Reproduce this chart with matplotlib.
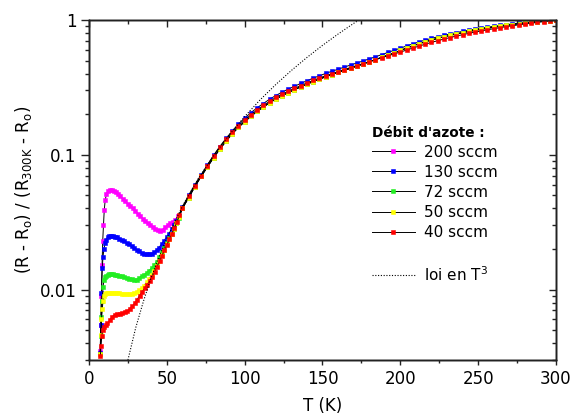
import matplotlib
matplotlib.use('Agg')
import matplotlib.pyplot as plt
import numpy as np
from matplotlib.lines import Line2D
from matplotlib.ticker import MultipleLocator, FuncFormatter, NullFormatter, LogLocator

plt.rcParams['font.family'] = ['DejaVu Sans']

# temperature grid of the high-T part (K), common to every series
T_HI = np.arange(60, 301, 4)

# high-T part, nearly identical for all flows
HI_COMMON = [0.040, 0.048, 0.058, 0.069, 0.081, 0.095, 0.110, 0.126, 0.143, 0.160,
             0.176, 0.193, 0.210, 0.226, 0.243, 0.259, 0.274, 0.289, 0.304, 0.319,
             0.334, 0.349, 0.364, 0.379, 0.393, 0.408, 0.423, 0.438, 0.454, 0.471,
             0.489, 0.508, 0.528, 0.549, 0.571, 0.594, 0.618, 0.642, 0.666, 0.689,
             0.710, 0.730, 0.750, 0.769, 0.787, 0.805, 0.822, 0.838, 0.854, 0.869,
             0.884, 0.898, 0.912, 0.925, 0.938, 0.950, 0.961, 0.972, 0.982, 0.991,
             1.000]
HI_130 = [0.041, 0.050, 0.060, 0.071, 0.084, 0.099, 0.115, 0.132, 0.150, 0.169,
          0.187, 0.205, 0.223, 0.240, 0.258, 0.275, 0.291, 0.307, 0.322, 0.338,
          0.354, 0.370, 0.385, 0.401, 0.416, 0.431, 0.447, 0.463, 0.479, 0.496,
          0.514, 0.533, 0.553, 0.574, 0.596, 0.618, 0.641, 0.664, 0.687, 0.709,
          0.730, 0.750, 0.769, 0.788, 0.806, 0.823, 0.839, 0.855, 0.870, 0.884,
          0.898, 0.911, 0.923, 0.935, 0.946, 0.956, 0.966, 0.975, 0.984, 0.992,
          1.000]
HI_40 = [0.0405, 0.049, 0.059, 0.070, 0.083, 0.098, 0.114, 0.130, 0.147, 0.164,
         0.181, 0.198, 0.215, 0.232, 0.249, 0.266, 0.281, 0.296, 0.311, 0.326,
         0.341, 0.356, 0.371, 0.386, 0.400, 0.414, 0.429, 0.444, 0.459, 0.475,
         0.491, 0.508, 0.525, 0.542, 0.560, 0.578, 0.598, 0.619, 0.640, 0.661,
         0.682, 0.702, 0.722, 0.741, 0.760, 0.778, 0.796, 0.813, 0.830, 0.846,
         0.862, 0.877, 0.892, 0.906, 0.920, 0.933, 0.946, 0.959, 0.972, 0.986,
         1.000]

# low-T part, one per flow
T_LOW_200 = [7.2, 7.6, 8.0, 8.4, 8.8, 9.3, 9.8, 10.4, 11.2, 12.2,
             13.3, 14.5, 15.8, 17.2, 18.7, 20.2, 21.8, 23.4, 25.0, 26.6,
             28.2, 29.8, 31.4, 33.0, 34.6, 36.2, 37.8, 39.4, 41.0, 42.6,
             44.2, 45.8, 47.4, 49.0, 50.6, 52.2, 53.8, 55.4, 57.0]
LOW_200 = [0.0035, 0.0055, 0.009, 0.0153, 0.0228, 0.030, 0.039, 0.046, 0.051, 0.0535,
           0.0545, 0.0545, 0.054, 0.0525, 0.051, 0.049, 0.047, 0.045, 0.043, 0.0415,
           0.040, 0.038, 0.0365, 0.035, 0.0335, 0.0322, 0.031, 0.030, 0.029, 0.0283,
           0.0276, 0.0273, 0.0278, 0.029, 0.030, 0.031, 0.0318, 0.033, 0.035]

T_LOW = [7.2, 7.6, 8.0, 8.5, 9.0, 9.6, 10.3, 11.1, 12.0, 13.0,
         14.1, 15.3, 16.6, 18.0, 19.5, 21.0, 22.6, 24.2, 25.8, 27.4,
         29.0, 30.6, 32.2, 33.8, 35.4, 37.0, 38.6, 40.2, 41.8, 43.4,
         45.0, 46.6, 48.2, 49.8, 51.4, 53.0, 54.6, 56.2, 57.8]
LOW_130 = [0.0034, 0.0055, 0.0095, 0.0145, 0.0175, 0.020, 0.022, 0.0235, 0.0245, 0.0249,
           0.025, 0.0249, 0.0247, 0.0244, 0.0239, 0.0234, 0.0228, 0.0222, 0.0216, 0.021,
           0.0204, 0.0198, 0.0192, 0.0188, 0.0184, 0.0182, 0.0182, 0.0184, 0.0189, 0.0196,
           0.0205, 0.0217, 0.023, 0.0245, 0.026, 0.028, 0.030, 0.0325, 0.035]
LOW_72 = [0.0033, 0.0045, 0.0062, 0.0082, 0.0105, 0.0117, 0.0124, 0.0127, 0.0129, 0.013,
          0.013, 0.013, 0.0129, 0.0128, 0.0127, 0.0125, 0.0123, 0.0122, 0.012, 0.0119,
          0.0117, 0.0118, 0.0122, 0.0126, 0.0129, 0.0133, 0.0138, 0.0144, 0.0151, 0.0161,
          0.0174, 0.0189, 0.0205, 0.0222, 0.024, 0.026, 0.028, 0.031, 0.034]
LOW_50 = [0.0033, 0.0046, 0.0060, 0.0072, 0.0082, 0.0089, 0.0092, 0.0094, 0.0095, 0.0095,
          0.0095, 0.0095, 0.0095, 0.0094, 0.0094, 0.0093, 0.0093, 0.0093, 0.0093, 0.0093,
          0.0094, 0.0096, 0.0099, 0.0102, 0.0107, 0.0113, 0.012, 0.0128, 0.0138, 0.0149,
          0.0164, 0.018, 0.0197, 0.0216, 0.0236, 0.0258, 0.0283, 0.031, 0.0345]

T_LOW_40 = [7.3, 7.7, 8.2, 8.8, 9.6, 10.6, 11.8, 13.3, 14.9, 16.5,
            18.1, 19.7, 21.3, 22.9, 24.5, 26.1, 27.7, 29.3, 30.9, 32.5,
            34.1, 35.7, 37.3, 38.9, 40.5, 42.1, 43.7, 45.3, 46.9, 48.5,
            50.1, 51.7, 53.3, 54.9, 56.5, 58.1]
LOW_40 = [0.0032, 0.0038, 0.0045, 0.0050, 0.0053, 0.0055, 0.0056, 0.0059, 0.0063, 0.0065,
          0.0066, 0.0066, 0.0067, 0.0068, 0.0069, 0.0072, 0.0075, 0.0079, 0.0084, 0.009,
          0.0096, 0.0102, 0.0108, 0.0116, 0.0124, 0.0134, 0.0148, 0.0162, 0.0178, 0.0196,
          0.0215, 0.0237, 0.026, 0.0288, 0.0318, 0.0355]

# T^3 law
T_LOI = [25, 30, 35, 40, 45, 50, 60, 70, 80, 90, 100, 110, 120, 130, 140, 150, 160, 170, 176]
LOI = [0.0030, 0.0052, 0.0082, 0.0123, 0.0175, 0.024, 0.0415, 0.066, 0.098, 0.140,
       0.192, 0.256, 0.332, 0.422, 0.527, 0.648, 0.786, 0.943, 1.047]

LABELS = ['200 sccm', '130 sccm', '72 sccm', '50 sccm', '40 sccm']
COLORS = ['#ff00ff', '#0000ff', '#22ee22', '#ffff00', '#ff0000']

XLIM = (0, 300)
YLIM = (0.003, 1)
AX_COLOR = '#222222'

series = [
    (T_LOW_200 + list(T_HI), LOW_200 + HI_COMMON),
    (T_LOW + list(T_HI), LOW_130 + HI_130),
    (T_LOW + list(T_HI), LOW_72 + HI_COMMON),
    (T_LOW + list(T_HI), LOW_50 + HI_COMMON),
    (T_LOW_40 + list(T_HI), LOW_40 + HI_40),
]

fig = plt.figure(figsize=(5.72, 4.18), dpi=100)
ax = fig.add_axes([0.1556, 0.1388, 0.8164, 0.8134])

handles = []
for (t, v), lab, c in zip(series, LABELS, COLORS):
    h, = ax.plot(t, v, color='k', lw=0.7, marker='s', ms=2.6,
                 mfc=c, mec=c, mew=0.4, label=lab)
    handles.append(h)

loi, = ax.plot(T_LOI, LOI, color='k', lw=0.8, ls=(0, (1, 1.5)))

ax.set_yscale('log')
ax.set_xlim(*XLIM)
ax.set_ylim(*YLIM)

minor_subs = np.arange(2, 10)
ax.xaxis.set_major_locator(MultipleLocator(50))
ax.xaxis.set_minor_locator(MultipleLocator(25))
ax.yaxis.set_major_locator(LogLocator(base=10))
ax.yaxis.set_minor_locator(LogLocator(base=10, subs=minor_subs))
ax.yaxis.set_major_formatter(FuncFormatter(lambda v, p: f'{v:g}'))
ax.yaxis.set_minor_formatter(NullFormatter())

ax.tick_params(axis='x', which='major', direction='out', length=3.5, width=1,
               color=AX_COLOR, labelsize=12, pad=4)
ax.tick_params(axis='x', which='minor', direction='out', length=2.5, width=1, color=AX_COLOR)
ax.tick_params(axis='y', which='major', direction='out', length=5.5, width=1,
               color=AX_COLOR, labelsize=12)
ax.tick_params(axis='y', which='minor', direction='out', length=3, width=1, color=AX_COLOR)

# inward ticks on top and right, through twin axes
axt = ax.twiny()
axt.set_xlim(*XLIM)
axt.xaxis.set_major_locator(MultipleLocator(50))
axt.xaxis.set_minor_locator(MultipleLocator(25))
axt.tick_params(axis='x', which='major', direction='in', length=5, width=1,
                color=AX_COLOR, labeltop=False)
axt.tick_params(axis='x', which='minor', direction='in', length=3, width=1, color=AX_COLOR)

axr = ax.twinx()
axr.set_yscale('log')
axr.set_ylim(*YLIM)
axr.yaxis.set_major_locator(LogLocator(base=10))
axr.yaxis.set_minor_locator(LogLocator(base=10, subs=minor_subs))
axr.yaxis.set_minor_formatter(NullFormatter())
axr.tick_params(axis='y', which='major', direction='in', length=5, width=1,
                color=AX_COLOR, labelright=False)
axr.tick_params(axis='y', which='minor', direction='in', length=3, width=1, color=AX_COLOR)

for a in (ax, axt, axr):
    for s in a.spines.values():
        s.set_linewidth(1.0)
        s.set_color(AX_COLOR)

ax.set_xlabel('T (K)', fontsize=12, labelpad=6)
ax.set_ylabel(r'(R - R$_\mathregular{o}$) / (R$_\mathregular{300K}$ - R$_\mathregular{o}$)',
              fontsize=12, labelpad=4)

blank = Line2D([], [], color='none')
leg = axr.legend(handles + [blank, loi], LABELS + ['', r'loi en T$^\mathregular{3}$'],
                 loc='upper left', bbox_to_anchor=(0.606, 0.689), frameon=False,
                 fontsize=11, numpoints=1, handlelength=2.8, handletextpad=0.6,
                 labelspacing=0.33, borderpad=0, borderaxespad=0,
                 title="Débit d'azote :",
                 title_fontproperties={'weight': 'bold', 'size': 9.8},
                 alignment='left')

fig.savefig('out.png', dpi=100)
